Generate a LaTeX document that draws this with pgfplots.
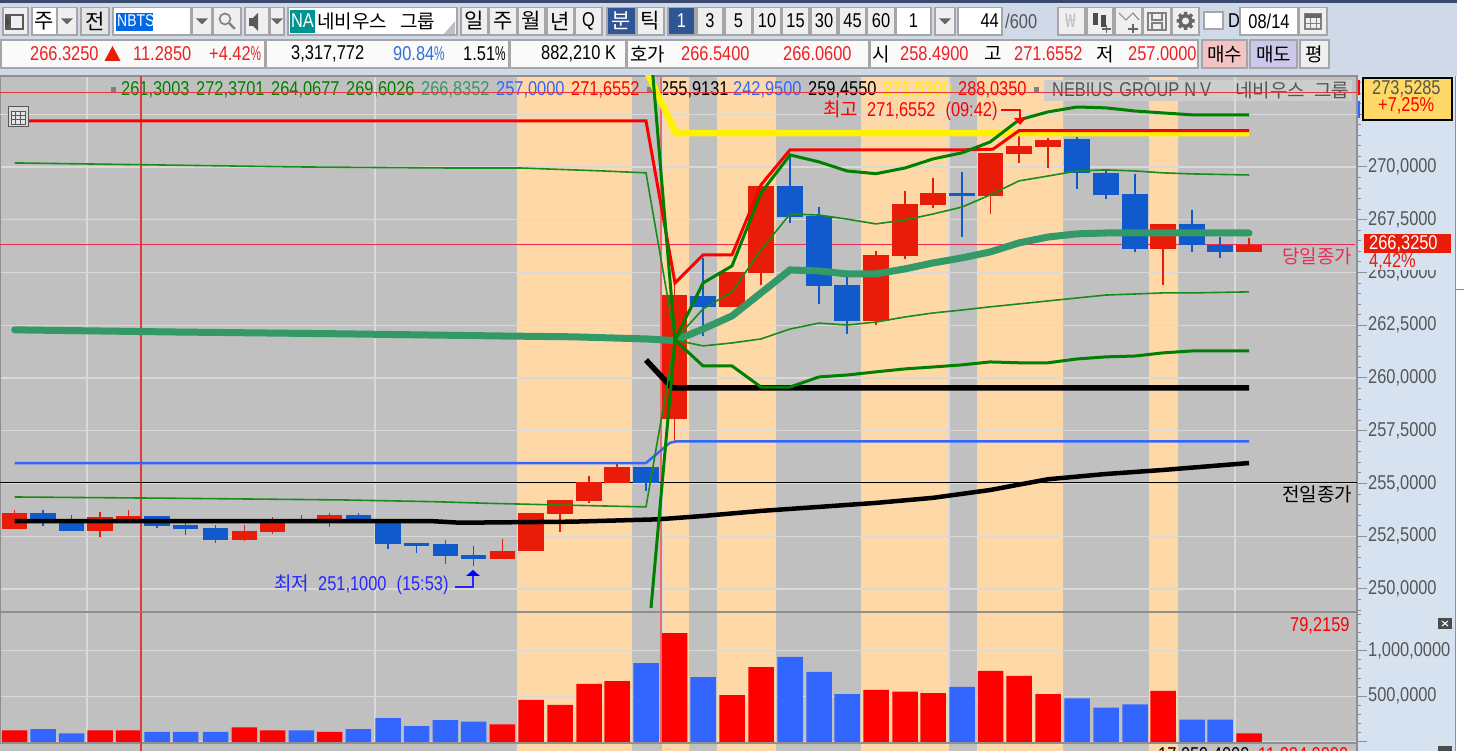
\documentclass[border=0pt]{standalone}
\usepackage{fontspec}
\usepackage{pgfplots}
\usepackage{pgfplotstable}
\pgfplotsset{compat=1.18}
\setmainfont[FakeStretch=0.82]{Liberation Sans}
\newfontfamily\krf{Noto Sans CJK KR}
\newcommand{\kr}[1]{{\krf\fontsize{19}{21}\selectfont #1}}
\newcommand{\krb}[1]{{\krf\fontsize{21}{23}\selectfont #1}}
\newcommand{\fs}{\fontsize{20}{22}\selectfont}
\newcommand{\pc}{\scalebox{0.72}[1]{\%}}

\definecolor{bar}{HTML}{CFD9E8}
\definecolor{topband}{HTML}{3A4A6E}
\definecolor{panelblue}{HTML}{D6E2F0}
\definecolor{btnline}{HTML}{A6A6A6}
\definecolor{btnfill}{HTML}{EFEFEF}
\definecolor{selblue}{HTML}{2F5597}
\definecolor{plotgray}{HTML}{C0C0C0}
\definecolor{bandorange}{HTML}{FFD8A8}
\definecolor{gridc}{HTML}{D9D9D9}
\definecolor{axisgray}{HTML}{8F8F8F}
\definecolor{tickc}{HTML}{555555}
\definecolor{candlered}{HTML}{E81C08}
\definecolor{candleblue}{HTML}{115ACB}
\definecolor{volred}{HTML}{FF0000}
\definecolor{volblue}{HTML}{3366FF}
\definecolor{seagreen2}{HTML}{339966}
\definecolor{dgreen}{HTML}{008000}
\definecolor{tgreen}{HTML}{1A8C1A}
\definecolor{lineblue}{HTML}{3366FF}
\definecolor{crimson}{HTML}{EE2A55}
\definecolor{cursorred}{HTML}{E23A3A}
\definecolor{txtred}{HTML}{F02020}
\definecolor{txtblue}{HTML}{2F6FD8}
\definecolor{tagyellow}{HTML}{FFD966}

% candles: x, body top, body bottom, high, low (x is the pixel column of the candle)
\pgfplotstableread{
x top bot hi lo
14.7 253.60 252.83 253.74 252.83
100 253.40 252.76 253.66 252.48
128.7 253.45 253.17 253.74 253.17
244.3 252.75 252.34 253.03 252.26
272.7 253.11 252.69 253.40 252.62
329.7 253.52 253.19 253.62 252.95
502.3 251.82 251.41 252.38 251.41
531 253.59 251.79 253.59 251.79
560 254.23 253.55 254.23 252.71
589 255.09 254.18 255.37 254.06
617 255.80 255.01 255.92 255.01
674.5 263.93 258.04 264.50 257.00
732 265.04 263.36 265.04 263.36
761 269.10 264.99 269.10 264.41
876 265.83 262.70 266.03 262.50
905 268.25 265.77 268.88 265.63
933 268.75 268.18 269.46 268.04
990.5 270.65 268.62 270.65 267.77
1019 271.01 270.62 271.655 270.18
1048 271.28 270.96 271.37 269.97
1163 267.30 266.13 267.30 264.41
1249 266.30 265.97 266.62 265.97
}\redcandles
\pgfplotstableread{
x top bot hi lo
43 253.60 253.17 253.74 252.98
71.7 253.30 252.76 253.52 252.76
157 253.45 252.99 253.45 252.90
185.7 253.03 252.84 253.19 252.56
215.7 252.89 252.34 253.03 252.20
301.3 253.28 253.18 253.53 253.18
358.3 253.52 253.19 253.62 253.19
388 253.19 252.12 253.19 251.90
416.7 252.18 252.05 252.18 251.69
445.3 252.12 251.55 252.32 251.18
473.7 251.61 251.41 252.04 251.10
646 255.80 255.01 255.80 254.66
703 263.90 263.36 265.67 262.00
790 269.10 267.62 270.49 267.33
819 267.68 264.36 268.12 263.49
847 264.41 262.70 264.80 262.07
962 268.75 268.62 269.75 266.70
1077 271.31 269.70 271.44 268.96
1106 269.73 268.67 269.86 268.47
1135 268.73 266.13 269.67 265.97
1192 267.30 266.30 267.96 265.97
1220 266.30 265.97 266.70 265.70
}\bluecandles

\pgfplotsset{
  panel/.style={
    scale only axis, width=1357pt, xmin=0, xmax=1357, clip=true,
    xtick={87,375,662,949,1235}, xticklabels={}, xmajorgrids=true, ymajorgrids=true,
    grid style={draw=gridc,line width=1.2pt},
    xtick style={draw=none},
    ytick pos=right, yticklabel pos=right, tick align=outside,
    major tick length=10pt, minor tick length=4pt,
    ytick style={draw=axisgray,line width=1pt},
    minor tick style={draw=axisgray,line width=1pt},
    axis line style={draw=axisgray,line width=1.5pt},
    tick label style={font=\fs,text=tickc,inner sep=1pt},
    /pgf/number format/assume math mode=true,
  },
  candle/.style 2 args={draw=none, no marks,
    error bars/.cd, y dir=minus, y explicit, error mark=none,
    error bar style={line width=#2,draw=#1,solid}},
}

\newcommand{\btn}[4][btnfill]{\draw[btnline,line width=1.3pt,fill=#1] (#2,7.5) rectangle (#3,35);
  \node[text=black] at ({(#2+#3)/2},21) {#4};}
\newcommand{\drop}[1]{\fill[gray!80!black] (#1-6,18.5)--(#1+6,18.5)--(#1,24.5)--cycle;}
\newcommand{\tx}[4][black]{\node[anchor=west,inner sep=0pt,text=#1] at (#2,#3) {#4};}

\begin{document}
\begin{tikzpicture}[every node/.style={font=\fs}]
\path[use as bounding box] (0,0) rectangle (1464pt,751pt);

\begin{scope}[x=1pt,y=-1pt,shift={(0pt,751pt)}]
  % window and toolbar
  \fill[white] (0,0) rectangle (1464,751);
  \fill[bar] (0,0) rectangle (1457,76);
  \fill[topband] (0,0) rectangle (1457,3);
  \draw[white!70!gray,line width=1pt] (0,69.5) -- (1457,69.5);
  \fill[panelblue] (1357,76) rectangle (1455,751);
  \draw[axisgray,line width=1pt] (1455,76) -- (1455,751);
  \fill[plotgray] (0,76) rectangle (1357,751);

  % row 1
  \btn{3}{28}{}
  \fill[gray!70!black] (5,14) rectangle (24,30);
  \fill[btnfill] (11,16) rectangle (22,28);
  \fill[black!70] (5,16)--(11,22)--(5,28)--cycle;
  \btn[white]{32}{57}{\krb{주}}
  \btn{57.5}{77}{} \drop{67}
  \btn[gray!20]{81}{109}{\krb{전}}
  \btn[white]{113}{191}{}
  \fill[blue!55!cyan!90!black] (116,13) rectangle (153,31);
  \tx[white]{117}{21}{\fontsize{17}{19}\selectfont NBTS}
  \btn{192}{212}{} \drop{202}
  \btn{213}{241}{}
  \draw[gray,line width=1.6pt] (225,19) circle (5.5);
  \draw[gray,line width=2.2pt] (229,23) -- (235,29);
  \btn{245}{269}{}
  \fill[gray!70!black] (249,18) rectangle (253,26);
  \fill[gray!70!black] (253,18)--(258,13)--(258,31)--(253,26)--cycle;
  \btn{270}{284}{} \drop{277}
  \btn[white]{288}{457}{}
  \fill[teal!85!cyan] (290,10) rectangle (315,33);
  \node[text=white] at (302.5,21) {NA};
  \tx{317}{21}{\kr{네비우스\hspace{13pt}그룹}}
  \fill[gray!50] (455,21)--(455,34)--(444,34)--cycle;
  \btn{461}{488}{\krb{일}} \btn{489}{517}{\krb{주}} \btn{518}{545}{\krb{월}}
  \btn{547}{574}{\krb{년}} \btn{575}{602}{Q}
  \draw[btnline,line width=1.3pt,fill=selblue] (607,7.5) rectangle (636,35);
  \node[text=white] at (621.5,21) {\krb{분}};
  \btn{637}{664}{\krb{틱}}
  \draw[btnline,line width=1.3pt,fill=selblue] (668,7.5) rectangle (695,35);
  \node[text=white] at (681.5,21) {1};
  \btn{697}{723}{3} \btn{725}{752}{5} \btn{753}{781}{10} \btn{782}{809}{15}
  \btn{811}{837}{30} \btn{839}{866}{45} \btn{867}{895}{60}
  \btn[white]{896}{931}{1}
  \btn{935}{955}{} \drop{945}
  \btn[white]{958}{1002}{}
  \node[anchor=east,inner sep=0pt] at (999,21) {44};
  \tx[tickc]{1005}{21}{/600}
  \btn{1058}{1085}{}
  \node[text=gray!50] at (1071,21) {\kr{₩}};
  \btn{1087}{1113}{}
  \fill[black!70] (1093,13) rectangle (1098,25);
  \fill[black!70] (1101,15) rectangle (1106,27);
  \draw[black!60,line width=1.5pt] (1102,29) -- (1111,29) (1106.5,25) -- (1106.5,33);
  \btn{1115}{1142}{}
  \draw[gray,line width=1pt] (1119,13) -- (1126,20) -- (1133,13) -- (1139,20);
  \draw[black!60,line width=1.5pt] (1128,29) -- (1138,29) (1133,24.5) -- (1133,33.5);
  \btn{1143}{1171}{}
  \draw[gray,line width=2pt] (1148,13) rectangle (1166,30);
  \draw[gray,line width=1.5pt] (1152,13) rectangle (1162,20) (1152,30) rectangle (1162,23);
  \btn{1172}{1199}{}
  \draw[gray!80!black,line width=3.5pt] (1185.5,21) circle (5.5);
  \draw[gray!80!black,line width=3.5pt] (1185.5,12) -- (1185.5,30) (1176.5,21) -- (1194.5,21)
    (1179,14.5) -- (1192,27.5) (1179,27.5) -- (1192,14.5);
  \fill[btnfill] (1185.5,21) circle (3.5);
  \draw[btnline,line width=1.3pt,fill=white] (1204,12) rectangle (1223,29);
  \tx{1228}{21}{D}
  \btn[white]{1240}{1298}{08/14}
  \btn{1299}{1327}{}
  \draw[gray,line width=1.2pt] (1305,14) rectangle (1321,29);
  \fill[gray!80!black] (1305,14) rectangle (1321,18);
  \draw[gray,line width=.6pt] (1310,18)--(1310,29) (1316,18)--(1316,29) (1305,23)--(1321,23);

  % row 2
  \foreach \a/\b in {1/265,266/509,510/626,627/869,870/1198}
    \draw[btnline,line width=1.3pt,fill=white!96!gray] (\a,40) rectangle (\b,68);
  \tx[txtred]{30}{54}{266.3250}
  \fill[candlered] (112.5,46)--(120.5,61)--(104.5,61)--cycle;
  \tx[txtred]{133}{54}{11.2850}
  \tx[txtred]{209}{54}{+4.42\pc}
  \tx{291}{54}{3,317,772}
  \tx[txtblue]{393}{54}{90.84\pc}
  \tx{463}{54}{1.51\pc}
  \tx{541}{54}{882,210 K}
  \tx{630}{54}{\kr{호가}}
  \tx[txtred]{681}{54}{266.5400}
  \tx[txtred]{783}{54}{266.0600}
  \tx{872}{54}{\kr{시}}
  \tx[txtred]{900}{54}{258.4900}
  \tx{984}{54}{\kr{고}}
  \tx[txtred]{1014}{54}{271.6552}
  \tx{1096}{54}{\kr{저}}
  \begin{scope}
    \clip (1100,40) rectangle (1197,68);
    \tx[txtred]{1128}{54}{257.0000}
  \end{scope}
  \draw[btnline,line width=1.3pt,fill=red!20!white!90!gray] (1202,40) rectangle (1247,68);
  \node at (1224.5,54) {\kr{매수}};
  \draw[btnline,line width=1.3pt,fill=cyan!15!blue!20!white] (1250,40) rectangle (1297,68);
  \node at (1273.5,54) {\kr{매도}};
  \draw[btnline,line width=1.3pt,fill=btnfill] (1300,40) rectangle (1329,68);
  \node at (1314.5,54) {\kr{평}};
\end{scope}

% orange session bands, behind everything in the plot area
\begin{axis}[
  at={(0pt,0pt)}, anchor=south west, scale only axis,
  width=1357pt, height=675pt, hide axis,
  xmin=0, xmax=1357, ymin=0, ymax=1,
]
\addplot[ybar interval, fill=bandorange, draw=none] coordinates {
(517,1) (632,0) (662,1) (689,0) (717,1) (776,0) (861,1) (949,0)
(977,1) (1063,0) (1149,1) (1178,0) (1357,0)};
\end{axis}

% values strip above the price panel, under the red line
\begin{scope}[x=1pt,y=-1pt,shift={(0pt,751pt)}]
  \fill[plotgray!80!white] (1044,80) rectangle (1352,101);
  \foreach \x in {113,649,1036} \fill[gray] (\x-2.5,87) rectangle (\x+3,93);
  \tx[dgreen]{121}{90}{261,3003}
  \tx[dgreen]{196}{90}{272,3701}
  \tx[dgreen]{271}{90}{264,0677}
  \tx[dgreen]{346}{90}{269,6026}
  \tx[seagreen2]{421}{90}{266,8352}
  \tx[lineblue]{496}{90}{257,0000}
  \tx[red]{571}{90}{271,6552}
  \tx{660}{90}{255,9131}
  \tx[lineblue]{733}{90}{242,9500}
  \tx{808}{90}{259,4550}
  \tx[yellow]{883}{90}{271,5300}
  \tx[red]{958}{90}{288,0350}
  \tx[tickc]{1052}{90}{NEBIUS\hspace{6pt}GROUP\hspace{5pt}N\hspace{4pt}V}
  \tx[tickc]{1235}{90}{\kr{네비우스\hspace{9pt}그룹}}
\end{scope}

% price panel
\begin{axis}[
  panel,
  at={(0pt,139pt)}, anchor=south west, height=536pt,
  ymin=248.91, ymax=274.31,
  ytick={250,252.5,...,270},
  extra y ticks={272.5}, extra y tick labels={},
  extra y tick style={ymajorgrids=true},
  minor ytick={249,249.5,...,274},
  scaled y ticks=false,
  yticklabel style={/pgf/number format/.cd, fixed, fixed zerofill, precision=4, use comma, 1000 sep={}},
]
% cursor and reference lines
\addplot[cursorred,line width=1.3pt] coordinates {(141,248.91) (141,274.31)};
\addplot[cursorred!75!white,line width=1.3pt] coordinates {(661,248.91) (661,274.31)};
\addplot[black,line width=1.3pt] coordinates {(0,255.04) (1357,255.04)};
\addplot[crimson,line width=1.2pt] coordinates {(0,266.325) (1355,266.325)};
\addplot[cursorred,line width=1.2pt] coordinates {(0,273.5285) (1357,273.5285)};

% candles
\addplot[candle={candlered}{1.5pt}] table[x=x,y=hi,y error minus expr=\thisrow{hi}-\thisrow{lo}] {\redcandles};
\addplot[candle={candleblue}{1.5pt}] table[x=x,y=hi,y error minus expr=\thisrow{hi}-\thisrow{lo}] {\bluecandles};
\addplot[candle={candlered}{25.5pt}] table[x=x,y=top,y error minus expr=\thisrow{top}-\thisrow{bot}] {\redcandles};
\addplot[candle={candleblue}{25.5pt}] table[x=x,y=top,y error minus expr=\thisrow{top}-\thisrow{bot}] {\bluecandles};

% blue line
\addplot[lineblue,line width=2.5pt] coordinates {
(14.7,255.97) (646,255.97) (670,256.93) (677,257.00) (1249,257.00)};
% black 1
\addplot[black,line width=4.5pt] coordinates {
(14.7,253.22) (430,253.22) (460,253.14) (573,253.19) (657,253.30) (675,253.36)
(703,253.46) (761,253.70) (819,253.89) (876,254.08) (933,254.32) (990,254.69)
(1048,255.20) (1106,255.45) (1163,255.64) (1249,255.97)};
\addplot[black,line width=5.5pt] coordinates {
(646,260.85) (672,259.53) (1249,259.53)};
% yellow
\addplot[yellow,line width=6.5pt] coordinates {(646,274.60) (676,271.60) (1249,271.60)};
% red upper
\addplot[red,line width=3pt] coordinates {
(14.7,272.18) (646,272.18) (675,264.50) (703,265.83) (732,265.83) (761,269.15)
(790,270.81) (962,270.81) (993,270.84) (1019,271.72) (1249,271.72)};
% thick middle line
\addplot[seagreen2,line width=7pt,line cap=round] coordinates {
(14.7,262.28) (172,262.18) (345,262.09) (500,261.99) (573,261.95) (646,261.85)
(675,261.77) (703,262.32) (732,262.94) (761,264.03) (790,265.12) (819,265.07)
(847,264.93) (876,264.93) (905,265.17) (933,265.45) (962,265.69) (990,265.97)
(1019,266.40) (1048,266.68) (1077,266.83) (1106,266.87) (1249,266.87)};
% thin green upper and lower
\addplot[tgreen,line width=1.6pt] coordinates {
(14.7,270.19) (150,270.10) (300,270.00) (450,269.95) (520,269.95) (603,269.81)
(646,269.72) (675,261.80) (703,263.27) (732,264.08) (761,266.07) (790,267.77)
(819,267.72) (847,267.53) (876,267.30) (905,267.49) (933,267.77) (962,268.10)
(990,268.67) (1019,269.34) (1048,269.57) (1077,269.81) (1106,269.86) (1135,269.81)
(1163,269.72) (1192,269.67) (1249,269.62)};
\addplot[tgreen,line width=1.6pt] coordinates {
(14.7,254.36) (172,254.30) (343,254.22) (432,254.14) (488,254.06) (560,253.98)
(646,253.89) (675,261.80) (703,261.52) (732,261.66) (761,261.85) (790,262.32)
(819,262.60) (847,262.51) (876,262.65) (905,262.89) (933,263.08) (962,263.22)
(990,263.37) (1019,263.51) (1048,263.65) (1077,263.79) (1106,263.93) (1135,263.98)
(1163,264.03) (1192,264.03) (1249,264.08)};
% medium green upper and lower
\addplot[dgreen,line width=3pt] coordinates {
(651,275.40) (675,261.80) (703,264.50) (732,265.31) (761,268.77) (790,270.57)
(819,270.24) (847,269.81) (876,269.68) (905,269.95) (933,270.38) (962,270.67)
(990,271.18) (1019,272.23) (1048,272.61) (1077,272.84) (1106,272.80) (1135,272.65)
(1163,272.56) (1192,272.47) (1249,272.47)};
\addplot[dgreen,line width=3pt] coordinates {
(651,249.10) (675,261.80) (703,260.57) (732,260.57) (761,259.57) (790,259.57)
(819,260.05) (847,260.14) (876,260.29) (905,260.43) (933,260.52) (962,260.62)
(990,260.76) (1019,260.72) (1048,260.72) (1077,260.90) (1106,261.00) (1135,261.04)
(1163,261.19) (1192,261.28) (1249,261.28)};
\end{axis}

% volume panel
\begin{axis}[
  panel,
  at={(0pt,8pt)}, anchor=south west, height=131pt,
  ymin=-10941, ymax=1422330,
  ytick={0,500000,1000000},
  yticklabels={,{500,0000},{1,000,0000}},
  minor ytick={100000,200000,...,1400000},
  scaled y ticks=false,
]
\addplot[ybar, bar width=25.5pt, bar shift=0pt, fill=volred, draw=none] coordinates {
(14.7,128000) (100,128000) (128.7,128000) (244.3,161000) (272.7,128000) (329.7,110000)
(502.3,194000) (531,460000) (560,405000) (589,635000) (617,667000) (674.5,1192000)
(732,514000) (761,820000) (876,569000) (905,552000) (933,536000) (990.5,777000)
(1019,724000) (1048,525000) (1163,558000) (1249,95000)};
\addplot[ybar, bar width=25.5pt, bar shift=0pt, fill=volblue, draw=none] coordinates {
(43,142000) (71.7,95000) (157,110000) (185.7,110000) (215.7,110000) (301.3,128000)
(358.3,142000) (388,260000) (416.7,175000) (445.3,240000) (473.7,222000) (646,864000)
(703,711000) (790,930000) (819,766000) (847,525000) (962,602000) (1077,478000)
(1106,375000) (1135,411000) (1192,246000) (1220,246000)};
\addplot[cursorred,line width=1.3pt] coordinates {(141,-10941) (141,1422330)};
\addplot[cursorred!75!white,line width=1.3pt] coordinates {(661,-10941) (661,1422330)};
\end{axis}

% labels on top of the plot
\begin{scope}[x=1pt,y=-1pt,shift={(0pt,751pt)}]
  \draw[cursorred,line width=1.3pt] (141,743) -- (141,751);
  \draw[axisgray,line width=1.5pt] (1357,743) -- (1357,751);
  % table icon
  \draw[gray!70!black,line width=1pt,fill=gray!30] (8,107) rectangle (28,127);
  \draw[gray!70!black,line width=.7pt,fill=white!80!gray] (11,111) rectangle (25,124);
  \draw[gray!70!black,line width=.5pt] (15.7,111)--(15.7,124) (20.3,111)--(20.3,124) (11,115)--(25,115) (11,119.5)--(25,119.5);
  % high marker
  \tx[red]{823}{111}{\kr{최고}\hspace{9pt}271,6552\hspace{10pt}(09:42)}
  \draw[red,line width=1.2pt] (1001,110) -- (1020,110) -- (1020,118);
  \fill[red] (1014,118) -- (1026,118) -- (1020,125) -- cycle;
  % low marker
  \tx[blue!85!white]{274}{585}{\kr{최저}\hspace{9pt}251,1000\hspace{10pt}(15:53)}
  \draw[blue!85!white,line width=1.2pt] (455,587) -- (473,587) -- (473,576);
  \fill[blue] (466,576) -- (480,576) -- (473,570) -- cycle;
  % closes
  \tx[crimson]{1282}{256}{\kr{당일종가}}
  \tx{1282}{494}{\kr{전일종가}}
  \tx[red]{1290}{626}{79,2159}
  % price tags in the scale
  \fill[panelblue] (1362,254) rectangle (1452,270.5);
  \tx[candlered]{1369}{262}{4,42\%}
  \fill[candlered] (1364,234) rectangle (1451,253);
  \tx[white]{1369}{244}{266,3250}
  \draw[red,line width=1.5pt] (1359,80) -- (1359,95);
  \draw[lineblue,line width=1.5pt] (1359,101) -- (1359,118);
  \draw[black,line width=1.5pt,fill=tagyellow] (1363,78) rectangle (1452,120);
  \tx[tickc]{1372}{88.5}{273,5285}
  \tx[red]{1378}{106}{+7,25\%}
  % small panel buttons
  \fill[black!70] (1438,618) rectangle (1452,629);
  \draw[white,line width=1pt] (1442,621) -- (1448,626) (1442,626) -- (1448,621);
  \fill[black!70] (1438,746) rectangle (1452,751);
  % bottom panel values, cut by the window edge
  \draw[axisgray,line width=1pt] (1456,290) -- (1464,290);
  \tx{1158}{756}{17,059,4000}
  \tx[red]{1258}{756}{11,224,0000}
\end{scope}
\end{tikzpicture}
\end{document}
